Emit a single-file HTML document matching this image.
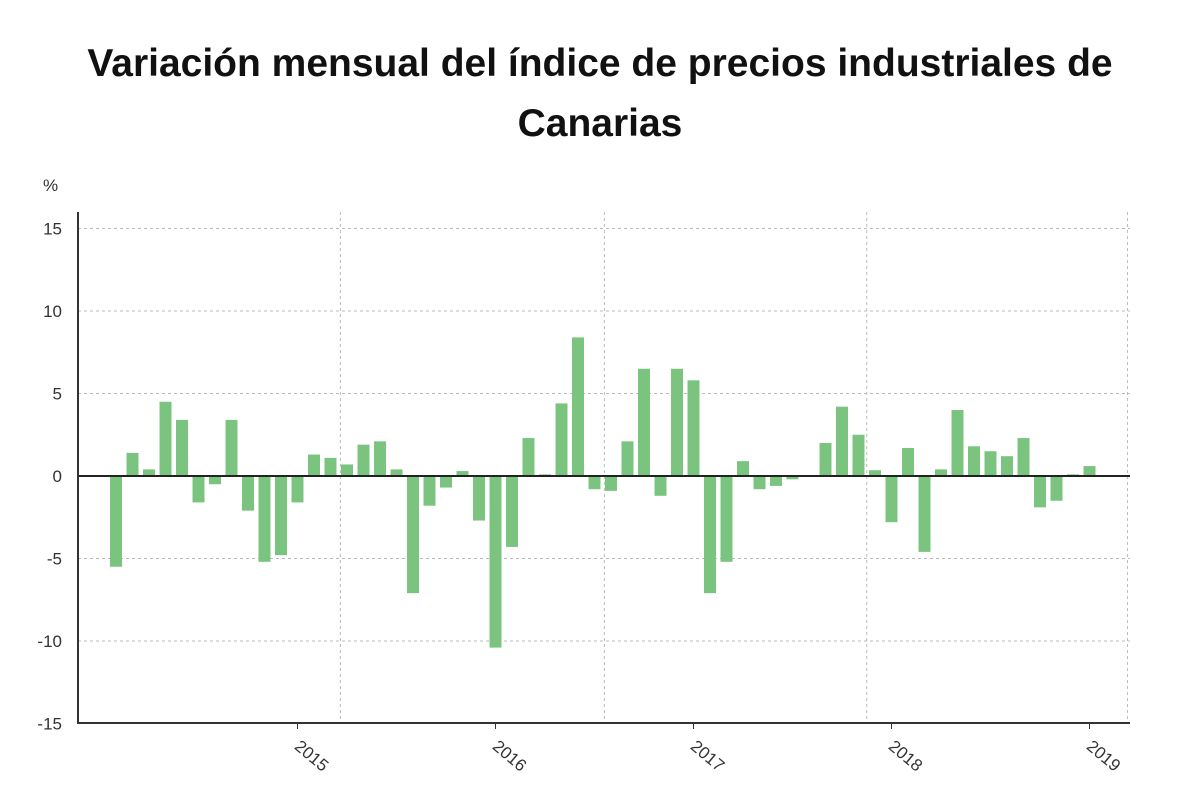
<!DOCTYPE html>
<html><head><meta charset="utf-8"><style>
body{margin:0;background:#fff;width:1200px;height:808px;overflow:hidden;font-family:"Liberation Sans",sans-serif}
h1{position:absolute;left:0;top:34px;width:1200px;margin:0;text-align:center;font-size:39px;line-height:60px;font-weight:bold;color:#111}
</style></head><body>
<h1>Variación mensual del índice de precios industriales de<br>Canarias</h1>
<svg id="c" width="1200" height="808" style="position:absolute;left:0;top:0"></svg>
<script>
const values=[-5.5,1.4,0.4,4.5,3.4,-1.6,-0.5,3.4,-2.1,-5.2,-4.8,-1.6,1.3,1.1,0.7,1.9,2.1,0.4,-7.1,-1.8,-0.7,0.3,-2.7,-10.4,-4.3,2.3,0.1,4.4,8.4,-0.8,-0.9,2.1,6.5,-1.2,6.5,5.8,-7.1,-5.2,0.9,-0.8,-0.6,-0.2,0.05,2.0,4.2,2.5,0.35,-2.8,1.7,-4.6,0.4,4.0,1.8,1.5,1.2,2.3,-1.9,-1.5,0.1,0.6];
const yTicks=[15,10,5,0,-5,-10,-15];
const xLabels=["2015","2016","2017","2018","2019"];
const xLabelIdx=[11,23,35,47,59];
const vGridIdx=[13.6,29.6,45.5,61.3];
const NS="http://www.w3.org/2000/svg",svg=document.getElementById('c');
const x=i=>116+i*16.5, y=v=>476-v*16.5;
function mk(t,a){const e=document.createElementNS(NS,t);for(const k in a)e.setAttribute(k,a[k]);svg.appendChild(e);return e;}
yTicks.forEach(v=>{
 const g=mk('line',{x1:78,x2:1130,y1:y(v),y2:y(v),stroke:'#bbb','stroke-dasharray':'3,3'});
 
 
 const t=mk('text',{x:62,y:y(v)+6,'text-anchor':'end','font-size':17,fill:'#333'});t.textContent=v;
 
 
});
vGridIdx.forEach(i=>{
 const g=mk('line',{x1:x(i),x2:x(i),y1:212,y2:723,stroke:'#bbb','stroke-dasharray':'3,3'});
 
 
});
values.forEach((v,i)=>{
 const r=mk('rect',{x:x(i)-6,y:Math.min(y(v),y(0)),width:12,height:Math.abs(y(v)-y(0)),fill:'#7bc47f'});
 
 
});
const z=mk('line',{x1:78,x2:1130,y1:y(0),y2:y(0),stroke:'#222','stroke-width':2});


const ya=mk('line',{x1:78,x2:78,y1:212,y2:724,stroke:'#333','stroke-width':2});


const xa=mk('line',{x1:77,x2:1130,y1:723,y2:723,stroke:'#333','stroke-width':2});


xLabels.forEach((l,k)=>{
 const px=x(xLabelIdx[k]);
 const tk=mk('line',{x1:px,x2:px,y1:723,y2:729,stroke:'#333','stroke-width':1});
 
 
 const t=mk('text',{x:px-4,y:748,'font-size':17,fill:'#333',transform:`rotate(40 ${px-4} 748)`});t.textContent=l;
 
 
});
const u=mk('text',{x:43,y:191,'font-size':17,fill:'#333'});u.textContent='%';


</script>
</body></html>
